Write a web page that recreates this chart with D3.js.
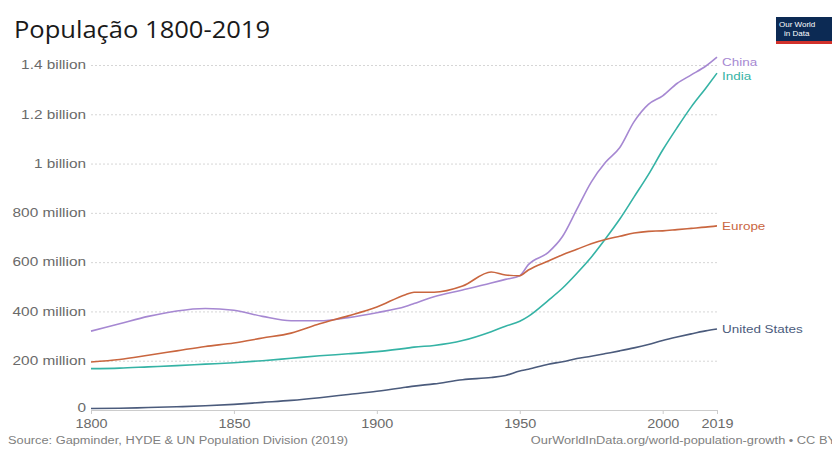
<!DOCTYPE html>
<html>
<head>
<meta charset="utf-8">
<script src="https://cdn.jsdelivr.net/npm/d3@7"></script>
<style>
  body { margin: 0; background: #fff; }
  svg { display: block; }
</style>
</head>
<body>
<svg id="chart" width="832" height="449"></svg>
<script>
// Population, millions
const years = [1800, 1810, 1820, 1830, 1840, 1850, 1860, 1870, 1880, 1890,
  1900, 1910, 1913, 1920, 1930, 1940, 1945, 1950, 1953, 1960, 1965, 1970,
  1975, 1980, 1985, 1990, 1995, 2000, 2005, 2010, 2015, 2019];

const china = [320, 350, 380, 402, 412, 405, 380, 362, 362, 375,
  395, 420, 432, 460, 487, 515, 530, 545, 590, 640, 705, 815,
  925, 1005, 1065, 1170, 1240, 1275, 1325, 1360, 1395, 1432];

const india = [168, 170, 175, 180, 186, 192, 200, 210, 220, 228,
  237, 250, 255, 262, 282, 318, 340, 360, 380, 445, 495, 555,
  620, 695, 775, 865, 955, 1055, 1145, 1230, 1305, 1367];

const europe = [195, 205, 222, 240, 258, 272, 292, 312, 350, 382,
  418, 468, 478, 478, 503, 560, 548, 545, 568, 605, 630, 652,
  675, 692, 705, 718, 725, 727, 732, 737, 742, 747];

const usa = [6, 7, 10, 13, 17, 23, 31, 39, 50, 63,
  76, 92, 97, 106, 123, 132, 140, 158, 165, 186, 196, 209,
  218, 229, 240, 252, 266, 282, 296, 309, 321, 329];

const seriesNames = ["China", "India", "Europe", "United States"];
const seriesColors = ["#a688d2", "#35b3a5", "#c9663f", "#4b5b7c"];
const yTicks = [0, 200, 400, 600, 800, 1000, 1200, 1400];
const xTicks = [1800, 1850, 1900, 1950, 2000, 2019];

const series = [china, india, europe, usa].map((vals, i) => ({
  name: seriesNames[i],
  color: seriesColors[i],
  values: vals.map((v, j) => ({ year: years[j], value: v }))
}));

const margin = { top: 65, right: 115, bottom: 39, left: 91 };
const W = 832, H = 449;
const FONT = "Liberation Sans, Arial, sans-serif";
// the picture's small text is drawn wide, so stretch it sideways
const STRETCH = 1.28;

const x = d3.scaleLinear()
  .domain([1800, 2019])
  .range([margin.left, W - margin.right]);

const y = d3.scaleLinear()
  .domain([0, 1400])
  .range([H - margin.bottom, margin.top]);

const fmt = (d) => d === 0 ? "0"
  : d >= 1000 ? `${d / 1000} billion` : `${d} million`;

const svg = d3.select("#chart");

// title
svg.append("text")
  .attr("class", "title")
  .attr("x", 14)
  .attr("y", 38)
  .attr("font-family", "Open Sans, sans-serif")
  .attr("font-size", 23)
  .attr("fill", "#1a1a1a")
  .text("População 1800-2019");

// logo
const logo = svg.append("g").attr("transform", "translate(776,17)");
logo.append("rect").attr("width", 60).attr("height", 24).attr("fill", "#0c2a54");
logo.append("rect").attr("y", 24).attr("width", 60).attr("height", 3).attr("fill", "#d1312b");
logo.append("text")
  .attr("x", 3).attr("y", 10)
  .attr("font-family", FONT)
  .attr("font-size", 8).attr("fill", "#fff")
  .text("Our World");
logo.append("text")
  .attr("x", 8).attr("y", 19)
  .attr("font-family", FONT)
  .attr("font-size", 8).attr("fill", "#fff")
  .text("in Data");

// y axis + gridlines
svg.append("g")
  .attr("transform", `translate(${margin.left},0)`)
  .call(d3.axisLeft(y).tickValues(yTicks).tickFormat(fmt)
    .tickSize(-(W - margin.right - margin.left)).tickPadding(5))
  .call((g) => g.select(".domain").remove())
  .call((g) => g.selectAll(".tick line")
    .attr("stroke", "#d6d6d6")
    .attr("stroke-dasharray", "2,2")
    .filter((d) => d === 0).remove())
  .call((g) => g.selectAll(".tick text")
    .attr("class", "small")
    .attr("fill", "#6a6a6a")
    .attr("font-family", FONT)
    .attr("font-size", 12)
    .filter((d) => d === 0).attr("dy", "0.1em"));

// x axis
svg.append("g")
  .attr("transform", `translate(0,${y(0)})`)
  .call(d3.axisBottom(x).tickValues(xTicks).tickFormat(d3.format("d"))
    .tickSize(4).tickPadding(5))
  .call((g) => g.select(".domain").attr("stroke", "#ccc"))
  .call((g) => g.selectAll(".tick line").attr("stroke", "#ccc"))
  .call((g) => g.selectAll(".tick text")
    .attr("class", "xlab")
    .attr("fill", "#6a6a6a")
    .attr("font-family", FONT)
    .attr("font-size", 12));

// lines
const line = d3.line()
  .x((d) => x(d.year))
  .y((d) => y(d.value))
  .curve(d3.curveMonotoneX);

svg.append("g")
  .selectAll("path")
  .data(series)
  .join("path")
  .attr("fill", "none")
  .attr("stroke", (d) => d.color)
  .attr("stroke-width", 1.6)
  .attr("d", (d) => line(d.values));

// line labels
const labelOffset = { "China": 5, "India": 3, "Europe": 0, "United States": 0 };
svg.append("g")
  .selectAll("text")
  .data(series)
  .join("text")
  .attr("class", "small")
  .attr("x", x(2019) + 5)
  .attr("y", (d) => y(d.values[d.values.length - 1].value) + labelOffset[d.name])
  .attr("dy", "0.35em")
  .attr("fill", (d) => d.color)
  .attr("font-family", FONT)
  .attr("font-size", 10.5)
  .text((d) => d.name);

// footer
svg.append("text")
  .attr("class", "small")
  .attr("x", 8).attr("y", 444)
  .attr("font-family", FONT)
  .attr("font-size", 10).attr("fill", "#808080")
  .text("Source: Gapminder, HYDE & UN Population Division (2019)");

svg.append("text")
  .attr("class", "small")
  .attr("x", 836).attr("y", 444)
  .attr("text-anchor", "end")
  .attr("font-family", FONT)
  .attr("font-size", 10).attr("fill", "#808080")
  .text("OurWorldInData.org/world-population-growth • CC BY");

// widen texts to match the picture
function stretch(sel, k) {
  sel.each(function () {
    const len = this.getComputedTextLength();
    d3.select(this)
      .attr("textLength", len * k)
      .attr("lengthAdjust", "spacingAndGlyphs");
  });
}
stretch(svg.selectAll("text.small"), STRETCH);
stretch(svg.selectAll("text.xlab"), 1.2);
stretch(svg.selectAll("text.title"), 1.11);
</script>
</body>
</html>
